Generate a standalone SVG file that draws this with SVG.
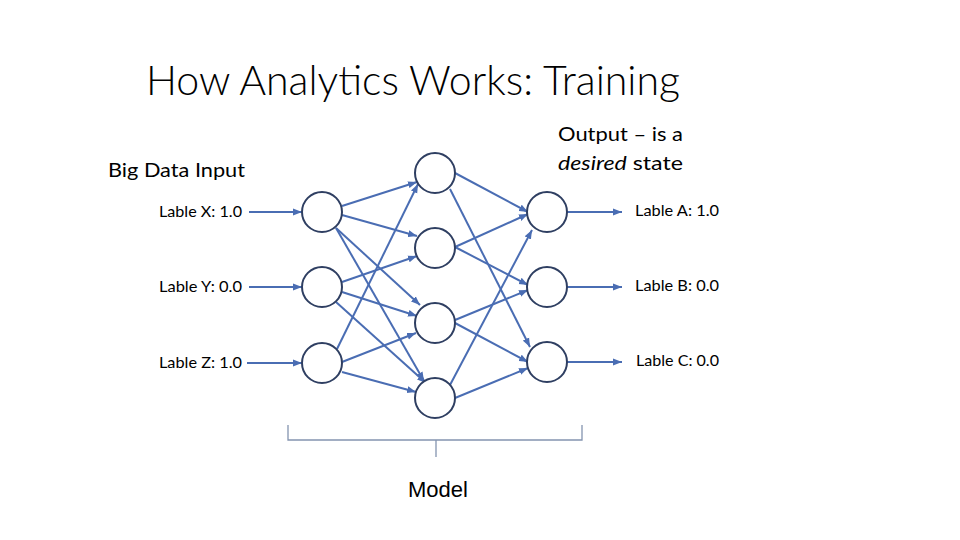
<svg xmlns="http://www.w3.org/2000/svg" width="960" height="540" viewBox="0 0 960 540">
<defs>
<marker id="ah" markerUnits="userSpaceOnUse" markerWidth="10" markerHeight="8" refX="9" refY="4" orient="auto">
<path d="M0,0.5 L9,4 L0,7.5 Z" fill="#4A6DB3"/>
</marker>
</defs>
<style>
.node{fill:#fff;stroke:#2F3F62;stroke-width:2}
.edge{stroke:#4A6DB3;stroke-width:2;fill:none;marker-end:url(#ah)}
.lbl{font-family:Lato,"Open Sans","Liberation Sans",sans-serif;font-size:15px;fill:#000}
.txt{font-family:Lato,"Open Sans","Liberation Sans",sans-serif;font-size:20px;fill:#000}
</style>
<rect width="960" height="540" fill="#fff"/>
<text x="146" y="95" font-family="Lato,'Open Sans',sans-serif" font-weight="300" font-size="42" fill="#000" textLength="534" lengthAdjust="spacingAndGlyphs">How Analytics Works: Training</text>
<text class="txt" x="108" y="177" textLength="137" lengthAdjust="spacingAndGlyphs">Big Data Input</text>
<text class="txt" x="558" y="141" textLength="125" lengthAdjust="spacingAndGlyphs">Output – is a</text>
<text class="txt" x="558" y="170" textLength="125" lengthAdjust="spacingAndGlyphs"><tspan font-style="italic">desired</tspan> state</text>
<g id="labels-in">
<text class="lbl" x="159" y="217" textLength="83" lengthAdjust="spacingAndGlyphs">Lable X: 1.0</text>
<text class="lbl" x="159" y="292" textLength="83" lengthAdjust="spacingAndGlyphs">Lable Y: 0.0</text>
<text class="lbl" x="159" y="368" textLength="83" lengthAdjust="spacingAndGlyphs">Lable Z: 1.0</text>
</g>
<g id="labels-out">
<text class="lbl" x="635" y="216" textLength="84" lengthAdjust="spacingAndGlyphs">Lable A: 1.0</text>
<text class="lbl" x="635" y="291" textLength="84" lengthAdjust="spacingAndGlyphs">Lable B: 0.0</text>
<text class="lbl" x="636" y="366" textLength="83" lengthAdjust="spacingAndGlyphs">Lable C: 0.0</text>
</g>
<g id="connectors">
<line class="edge" x1="249" y1="212" x2="302" y2="212"/>
<line class="edge" x1="249" y1="287" x2="302" y2="287"/>
<line class="edge" x1="247" y1="363" x2="302" y2="363"/>
<line class="edge" x1="567" y1="212" x2="622" y2="212"/>
<line class="edge" x1="567" y1="287" x2="622" y2="287"/>
<line class="edge" x1="567" y1="362" x2="622" y2="362"/>
<line class="edge" x1="342" y1="206" x2="417" y2="182"/>
<line class="edge" x1="342" y1="215" x2="417" y2="236"/>
<line class="edge" x1="336" y1="228" x2="420" y2="305"/>
<line class="edge" x1="336" y1="228" x2="424" y2="381"/>
<line class="edge" x1="342" y1="282" x2="417" y2="256"/>
<line class="edge" x1="342" y1="292" x2="417" y2="316"/>
<line class="edge" x1="336" y1="302" x2="426" y2="383"/>
<line class="edge" x1="337" y1="349" x2="418" y2="184"/>
<line class="edge" x1="342" y1="362" x2="416" y2="333"/>
<line class="edge" x1="342" y1="372" x2="416" y2="392"/>
<line class="edge" x1="455" y1="173" x2="528" y2="212"/>
<line class="edge" x1="450" y1="189" x2="530" y2="347"/>
<line class="edge" x1="455" y1="247" x2="528" y2="214"/>
<line class="edge" x1="455" y1="247" x2="528" y2="285"/>
<line class="edge" x1="455" y1="320" x2="528" y2="290"/>
<line class="edge" x1="455" y1="323" x2="528" y2="362"/>
<line class="edge" x1="450" y1="385" x2="532" y2="230"/>
<line class="edge" x1="455" y1="398" x2="528" y2="368"/>
</g>
<g id="in1"><circle class="node" cx="322" cy="212" r="20"/></g>
<g id="in2"><circle class="node" cx="322" cy="287" r="20"/></g>
<g id="in3"><circle class="node" cx="322" cy="363" r="20"/></g>
<g id="h1"><circle class="node" cx="435" cy="173" r="20"/></g>
<g id="h2"><circle class="node" cx="435" cy="248" r="20"/></g>
<g id="h3"><circle class="node" cx="435" cy="323" r="20"/></g>
<g id="h4"><circle class="node" cx="435" cy="398" r="20"/></g>
<g id="o1"><circle class="node" cx="547" cy="212" r="20"/></g>
<g id="o2"><circle class="node" cx="547" cy="287" r="20"/></g>
<g id="o3"><circle class="node" cx="547" cy="362" r="20"/></g>
<g id="model">
<path d="M288,425 V440 H582 V425 M436,440 V457" fill="none" stroke="#8494B0" stroke-width="1.3"/>
<text x="438" y="497" text-anchor="middle" font-family="'Liberation Sans',Arial,sans-serif" font-size="22" fill="#000">Model</text>
</g>
</svg>
